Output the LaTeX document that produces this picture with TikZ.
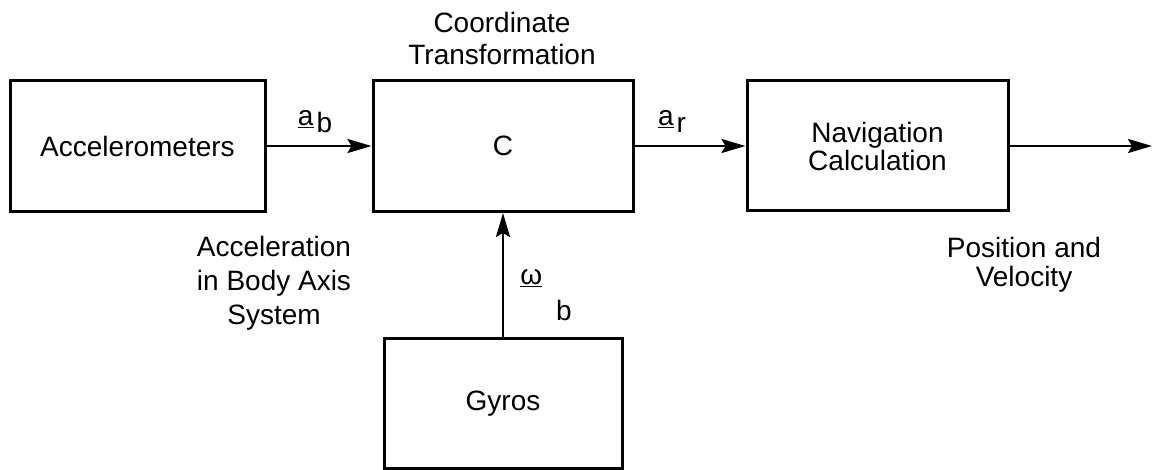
\documentclass[tikz,border=0pt]{standalone}
\usepackage{fontspec}
\setmainfont{Liberation Sans}
\usetikzlibrary{arrows.meta}
\tikzset{
  blk/.style={draw, line width=3pt, inner sep=0pt, align=center,
    font=\fontsize{28}{28}\selectfont},
  conn/.style={line width=2.6pt, -{Stealth[length=24pt,width=14pt,inset=4pt]}},
  lbl/.style={inner sep=0pt, align=center},
}
\begin{document}
\begin{tikzpicture}[x=1pt,y=-1pt]
\useasboundingbox (0,0) rectangle (1154,470);
\node[blk, minimum width=255pt, minimum height=131pt] (acc) at (137.5,146) {Accelerometers};
\node[blk, minimum width=260pt, minimum height=131pt] (c) at (503,146) {C};
\node[blk, minimum width=261pt, minimum height=130pt] (nav) at (877.5,146) {Navigation\\Calculation};
\node[blk, minimum width=238pt, minimum height=129pt] (gyros) at (503,403.5) {Gyros};
\coordinate (out) at (1152,146);

\draw[conn] (acc.east) -- (c.west);
\draw[conn] (c.east) -- (nav.west);
\draw[conn] (nav.east) -- (out);
\draw[conn] (gyros.north) -- (c.south);

\node[lbl, anchor=base, font=\fontsize{28}{32}\selectfont] (ct) at (502,65) {Coordinate\\Transformation};
\node[lbl, anchor=base, font=\fontsize{28}{34}\selectfont] (acctxt) at (274,325) {Acceleration\\in Body Axis\\System};
\node[lbl, anchor=base, font=\fontsize{28}{29}\selectfont] (postxt) at (1024,287) {Position and\\Velocity};

\node[lbl, anchor=base, font=\fontsize{28}{28}\selectfont] (ab) at (315,133) {\raisebox{7pt}{\underline{a}}\kern3pt b};
\node[lbl, anchor=base, font=\fontsize{28}{28}\selectfont] (ar) at (672,133) {\raisebox{7pt}{\underline{a}}\kern3pt r};
\node[lbl, anchor=base, font=\fontsize{28}{28}\selectfont] (wb) at (546,321) {\raisebox{36pt}{\underline{ω}}\kern14pt b};
\end{tikzpicture}
\end{document}
